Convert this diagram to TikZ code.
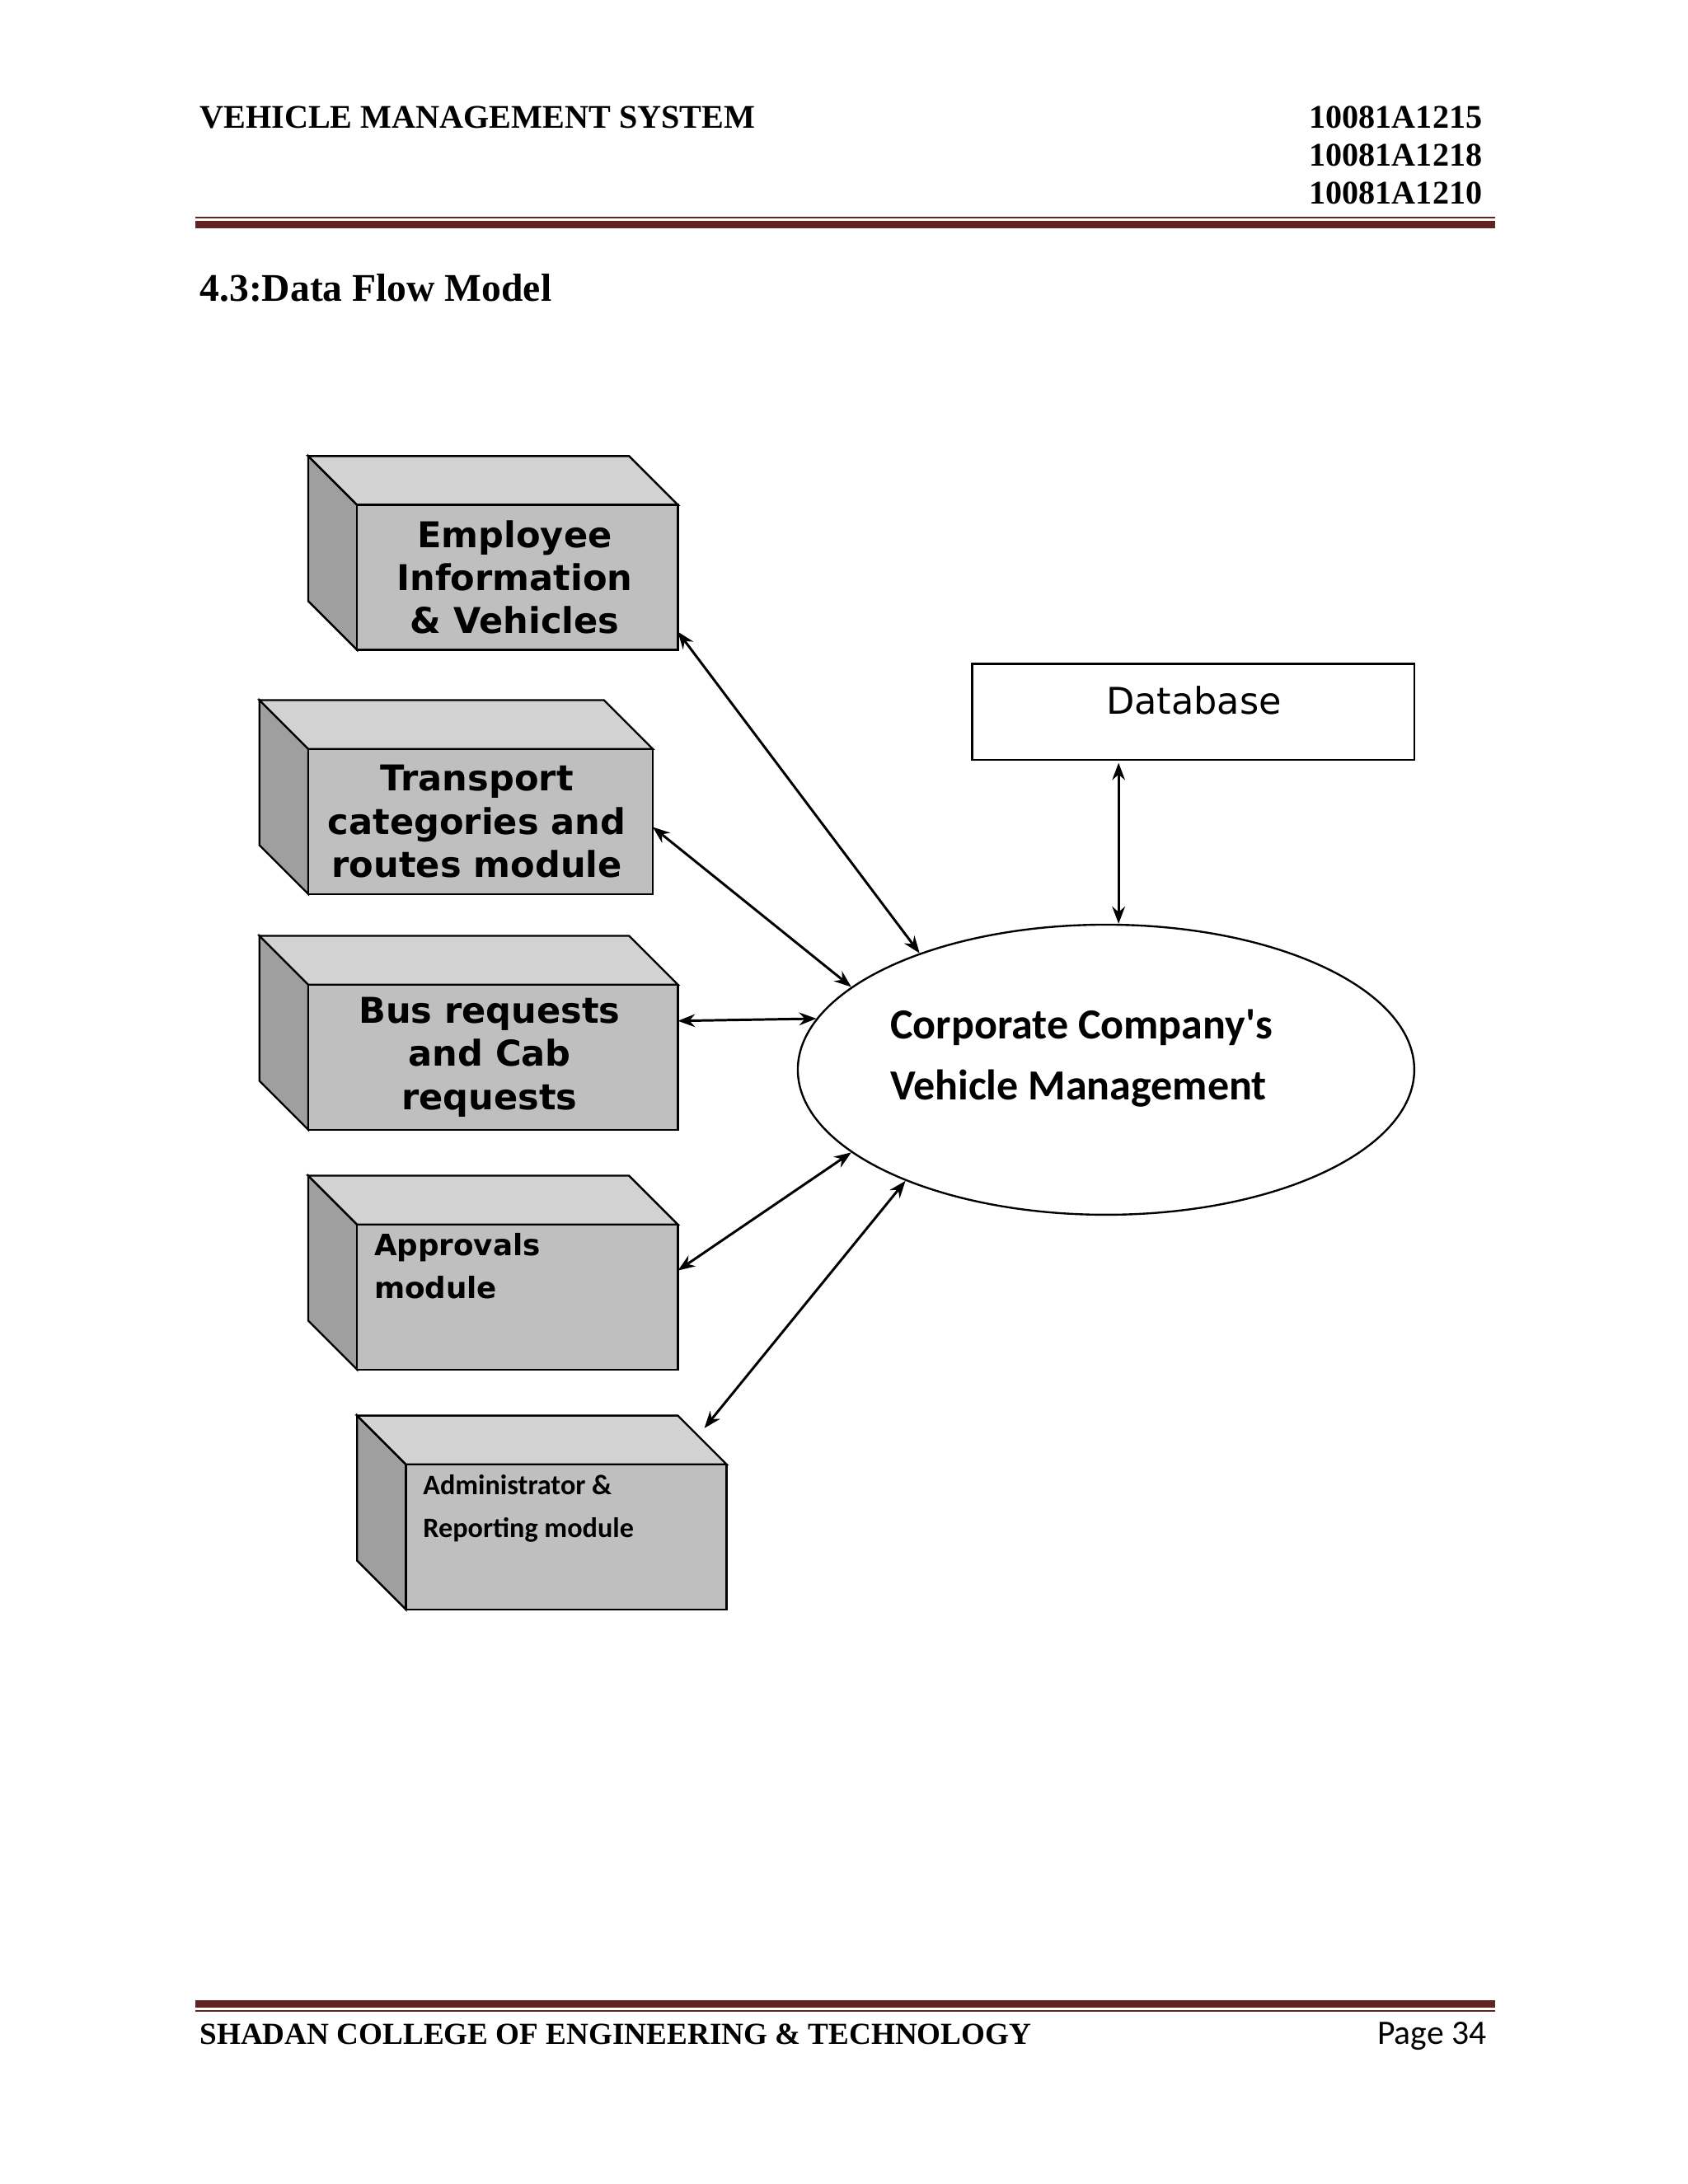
\documentclass[tikz,border=0pt]{standalone}
\usepackage{fontspec}
\setmainfont{Liberation Serif}
\newfontfamily\dv{DejaVu Sans}
\newfontfamily\cb{Carlito}
\usetikzlibrary{shapes.geometric,arrows.meta}
\definecolor{hdr}{HTML}{622423}
\begin{document}
\begin{tikzpicture}[x=0.02cm,y=-0.02cm,
  front/.style={fill=gray!50!white,draw=black,thick},
  side/.style={fill=gray!75!white,draw=black,thick},
  top/.style={fill=gray!35!white,draw=black,thick},
  arr/.style={{Stealth[length=7pt]}-{Stealth[length=7pt]},line width=1pt},
  ht/.style={font=\fontsize{13.5}{16}\selectfont\bfseries,inner sep=0pt}]
\useasboundingbox[fill=white] (0,0) rectangle (1210,1566);
% header
\node[ht,anchor=base west] (h1) at (143,92) {VEHICLE MANAGEMENT SYSTEM};
\node[ht,anchor=base east] (h2) at (1063,92) {10081A1215};
\node[ht,anchor=base east] (h3) at (1063,119) {10081A1218};
\node[ht,anchor=base east] (h4) at (1063,146) {10081A1210};
\draw[hdr,line width=0.7pt] (140,156) -- (1072,156);
\draw[hdr,line width=3pt] (140,161) -- (1072,161);
\node[anchor=base west,inner sep=0pt,font=\fontsize{16}{19}\selectfont\bfseries] (t) at (143,216) {4.3:Data Flow Model};
% footer
\draw[hdr,line width=3pt] (140,1437) -- (1072,1437);
\draw[hdr,line width=0.7pt] (140,1442) -- (1072,1442);
\node[ht,anchor=base west,font=\fontsize{12.5}{15}\selectfont\bfseries] (f1) at (143,1466) {SHADAN COLLEGE OF ENGINEERING \& TECHNOLOGY};
\node[anchor=base east,inner sep=0pt,font=\cb\fontsize{14}{16}\selectfont] (f2) at (1066,1466) {Page 34};
% boxes
\foreach \x/\y/\w in {256/362/230, 221/537/247, 221/706/265, 256/878/230, 291/1050/230}{
  \draw[side] (\x-35,\y-35) -- (\x,\y) -- (\x,\y+104) -- (\x-35,\y+69) -- cycle;
  \draw[top] (\x-35,\y-35) -- (\x+\w-35,\y-35) -- (\x+\w,\y) -- (\x,\y) -- cycle;
  \draw[front] (\x,\y) rectangle (\x+\w,\y+104);
}
\node[align=center,font=\dv\bfseries\fontsize{14.5}{17.6}\selectfont] (b1) at (369,414) {Employee\\Information\\\& Vehicles};
\node[align=center,font=\dv\bfseries\fontsize{14.5}{17.6}\selectfont] (b2) at (342,589) {Transport\\categories and\\routes module};
\node[align=center,font=\dv\bfseries\fontsize{14.5}{17.6}\selectfont] (b3) at (351,758) {Bus requests\\and Cab\\requests};
\node[align=left,anchor=north west,inner sep=0pt,font=\dv\bfseries\fontsize{12}{17.6}\selectfont] (b4) at (268,884) {Approvals\\module};
\node[align=left,anchor=north west,inner sep=0pt,font=\cb\bfseries\fontsize{11.5}{17.6}\selectfont] (b5) at (303,1057) {Administrator \&\\Reporting module};
% database & process
\draw[thick] (697,476) rectangle (1014,545);
\node[font=\dv\fontsize{15}{18}\selectfont] (db) at (856,502) {Database};
\node[draw,thick,ellipse,minimum width=442*0.02cm,minimum height=208*0.02cm] (cv) at (793,767) {};
\node[align=left,anchor=west,inner sep=0pt,font=\cb\bfseries\fontsize{17.5}{25}\selectfont] (cvt) at (638,759) {Corporate Company's\\Vehicle Management};
\coordinate (e1) at (486,453);
\coordinate (e2) at (468,593);
\coordinate (e3) at (486,732);
\coordinate (e4) at (486,911);
\coordinate (e5) at (505,1024);
\coordinate (d1) at (802,547);
\draw[arr] (e1) -- (cv.148);
\draw[arr] (e2) -- (cv.162);
\draw[arr] (e3) -- (cv.170);
\draw[arr] (e4) -- (cv.198);
\draw[arr] (e5) -- (cv.209);
\draw[arr] (d1) -- (cv.north -| d1);
\end{tikzpicture}
\end{document}
